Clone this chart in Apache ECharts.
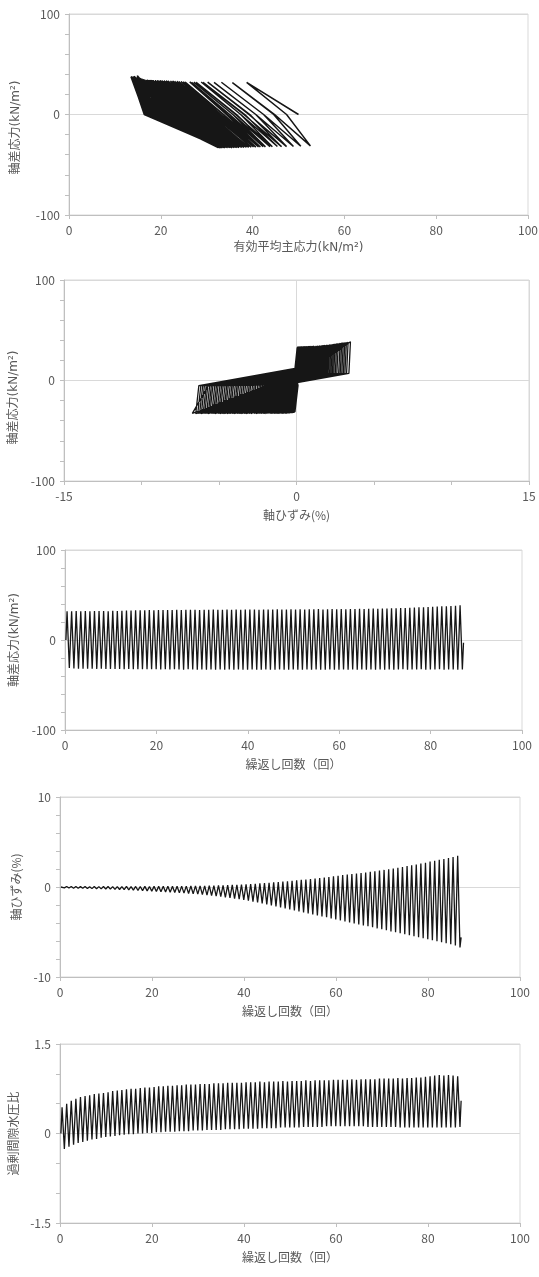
<!DOCTYPE html>
<html><head><meta charset="utf-8">
<script src="https://cdn.jsdelivr.net/npm/echarts@6/dist/echarts.min.js"></script>
<style>html,body{margin:0;padding:0;background:#fff}#c{width:539px;height:1277px}</style>
</head><body><div id="c"></div>
<script>
// ---- per-cycle peak values (cycle index 0..86) ----
const qMax = [
32.0,31.8,32.1,31.9,32.2,32.0,32.3,32.1,32.2,32.0,
32.4,32.3,32.6,32.8,32.7,33.0,32.9,33.1,33.2,33.0,
33.3,33.2,33.4,33.3,33.5,33.4,33.6,33.5,33.7,33.4,
33.6,33.5,33.8,33.6,33.7,33.9,33.6,33.8,33.7,33.9,
33.8,34.0,33.7,33.9,34.0,33.8,34.1,33.9,34.0,34.2,
33.9,34.1,34.0,34.2,34.1,34.3,34.0,34.2,34.4,34.1,
34.3,34.2,34.5,34.3,34.6,34.4,34.7,34.9,34.8,35.1,
35.0,35.3,35.2,35.6,35.5,35.9,36.0,36.3,36.5,36.7,
37.0,37.3,37.6,37.5,37.8,38.0,38.6];
const qMin = [
-31.2,-31.6,-31.8,-31.9,-32.0,-31.8,-32.1,-32.0,-32.2,-32.1,
-32.3,-32.2,-32.4,-32.3,-32.5,-32.4,-32.6,-32.5,-32.4,-32.6,
-32.7,-32.5,-32.8,-32.6,-32.7,-32.9,-32.6,-32.8,-33.0,-32.7,
-32.9,-32.8,-33.0,-32.7,-32.9,-32.8,-33.1,-32.8,-32.9,-33.0,
-32.8,-32.9,-33.0,-32.7,-32.9,-33.1,-32.8,-33.0,-32.9,-32.8,
-33.0,-32.9,-32.7,-33.0,-32.8,-32.9,-33.1,-32.8,-32.9,-33.0,
-32.8,-32.9,-32.7,-33.0,-32.8,-32.9,-32.7,-32.9,-32.8,-33.0,
-32.7,-32.9,-32.8,-32.6,-32.9,-32.7,-32.8,-32.6,-32.9,-32.7,
-32.8,-32.6,-32.9,-32.7,-32.8,-32.9,-32.7];
const strainMax = [
0.08,0.06,0.05,0.05,0.04,0.05,0.04,0.05,0.04,0.05,
0.05,0.04,0.05,0.05,0.06,0.05,0.06,0.06,0.07,0.06,
0.07,0.07,0.08,0.08,0.09,0.09,0.10,0.10,0.11,0.12,
0.12,0.13,0.15,0.16,0.18,0.19,0.21,0.23,0.25,0.27,
0.30,0.33,0.36,0.40,0.43,0.47,0.51,0.55,0.60,0.64,
0.69,0.74,0.79,0.84,0.89,0.95,1.00,1.06,1.12,1.19,
1.26,1.32,1.38,1.44,1.50,1.56,1.62,1.68,1.75,1.82,
1.90,1.98,2.06,2.14,2.23,2.32,2.41,2.50,2.60,2.70,
2.82,2.92,3.02,3.12,3.22,3.33,3.48];
const strainMin = [
-0.10,-0.12,-0.13,-0.15,-0.15,-0.17,-0.18,-0.19,-0.21,-0.22,
-0.24,-0.26,-0.28,-0.30,-0.32,-0.35,-0.37,-0.40,-0.43,-0.46,
-0.49,-0.52,-0.55,-0.58,-0.61,-0.65,-0.68,-0.72,-0.76,-0.80,
-0.85,-0.90,-0.96,-1.02,-1.08,-1.15,-1.21,-1.29,-1.36,-1.44,
-1.53,-1.62,-1.72,-1.83,-1.93,-2.05,-2.16,-2.27,-2.38,-2.50,
-2.60,-2.71,-2.83,-2.93,-3.04,-3.16,-3.26,-3.37,-3.49,-3.60,
-3.71,-3.82,-3.94,-4.04,-4.15,-4.27,-4.37,-4.48,-4.60,-4.70,
-4.81,-4.93,-5.03,-5.14,-5.26,-5.36,-5.47,-5.59,-5.69,-5.80,
-5.92,-6.02,-6.14,-6.25,-6.37,-6.50,-6.72];
const ppMax = [
0.44,0.50,0.55,0.58,0.61,0.63,0.64,0.66,0.67,0.68,
0.69,0.71,0.72,0.73,0.74,0.75,0.75,0.76,0.77,0.77,
0.78,0.79,0.79,0.80,0.80,0.81,0.81,0.82,0.82,0.82,
0.83,0.83,0.83,0.84,0.84,0.84,0.85,0.85,0.85,0.85,
0.86,0.86,0.86,0.87,0.86,0.87,0.87,0.87,0.88,0.87,
0.88,0.88,0.88,0.89,0.88,0.89,0.89,0.89,0.89,0.90,
0.90,0.90,0.90,0.91,0.90,0.91,0.91,0.91,0.91,0.92,
0.92,0.92,0.92,0.93,0.92,0.93,0.93,0.94,0.94,0.95,
0.96,0.97,0.98,0.97,0.98,0.97,0.96];
const ppMin = [
-0.26,-0.22,-0.19,-0.16,-0.14,-0.12,-0.10,-0.09,-0.07,-0.06,
-0.05,-0.04,-0.03,-0.02,-0.01,-0.01,0.00,0.00,0.01,0.01,
0.02,0.02,0.03,0.03,0.03,0.04,0.04,0.04,0.05,0.05,
0.05,0.06,0.06,0.06,0.06,0.07,0.07,0.07,0.07,0.08,
0.08,0.08,0.08,0.09,0.09,0.09,0.09,0.10,0.10,0.10,
0.10,0.10,0.11,0.11,0.11,0.11,0.11,0.12,0.12,0.12,
0.12,0.12,0.12,0.12,0.12,0.12,0.11,0.11,0.11,0.11,
0.11,0.11,0.11,0.10,0.10,0.10,0.10,0.10,0.10,0.10,
0.10,0.10,0.10,0.10,0.10,0.10,0.11];
// effective mean principal stress p' at compression peak / extension trough / q=0 crossings
const pTop = [
38.7,35.6,33.2,31.6,30.2,29.2,28.8,27.7,27.2,26.7,
26.3,25.3,24.9,24.4,23.9,23.5,23.5,23.0,22.6,22.5,
22.1,21.6,21.6,21.1,21.2,20.6,20.7,20.2,20.2,20.1,
19.7,19.7,19.8,19.2,19.2,19.3,18.7,18.8,18.7,18.8,
18.3,18.3,18.2,17.8,18.1,17.8,17.9,17.8,17.3,17.7,
17.3,17.4,17.3,16.9,17.2,16.9,16.8,16.9,17.0,16.4,
16.4,16.4,16.5,15.9,16.3,16.0,16.1,16.1,16.1,15.7,
15.7,15.8,15.7,15.4,15.8,15.5,15.5,15.1,15.2,14.7,
14.3,13.9,13.5,14.0,13.6,14.2,14.9];
const pBot = [
52.6,50.5,48.9,47.4,46.3,45.4,44.3,43.8,42.8,42.3,
41.7,41.3,40.7,40.2,39.7,39.7,39.1,39.2,38.7,38.6,
38.1,38.2,37.6,37.7,37.6,37.0,37.1,37.1,36.5,36.6,
36.5,36.1,36.0,36.1,36.0,35.6,35.5,35.6,35.6,35.0,
35.1,34.6,34.5,34.2,34.0,33.9,34.0,33.5,33.4,33.5,
33.4,33.3,33.0,32.9,33.0,33.0,32.9,32.6,32.5,32.6,
32.5,32.6,32.5,32.6,32.5,32.6,32.9,32.8,32.9,32.8,
32.9,32.8,32.9,33.2,33.1,33.2,33.2,33.1,33.2,33.1,
33.2,33.1,33.2,33.1,33.2,33.1,32.9];
const pDown = [
47.4,44.6,42.4,40.7,39.4,38.3,37.4,36.5,35.7,35.0,
34.3,33.6,33.0,32.4,31.8,31.3,30.8,30.3,29.8,29.4,
28.9,28.5,28.1,27.7,27.3,26.9,26.6,26.2,25.9,25.5,
25.2,24.9,24.6,24.3,24.0,23.7,23.4,23.1,22.8,22.6,
22.3,22.1,21.8,21.6,21.3,21.1,20.9,20.7,20.5,20.3,
20.1,19.9,19.7,19.5,19.4,19.2,19.0,18.9,18.7,18.6,
18.4,18.3,18.2,18.0,17.9,17.8,17.7,17.6,17.5,17.4,
17.3,17.2,17.1,17.0,17.0,16.9,16.8,16.8,16.7,16.7,
16.6,16.6,16.5,16.5,16.4,16.4,16.5];
const pUp = [
44.8,42.4,40.7,39.2,38.1,37.4,36.3,35.7,35.0,34.5,
33.7,33.1,32.6,32.1,31.6,31.2,30.8,30.4,30.0,29.6,
29.2,28.9,28.5,28.2,27.9,27.5,27.2,26.9,26.6,26.3,
26.0,25.8,25.6,25.3,25.1,24.9,24.7,24.5,24.3,24.1,
23.9,23.7,23.6,23.4,23.3,23.1,23.0,22.8,22.7,22.6,
22.5,22.4,22.3,22.2,22.1,22.0,21.9,21.8,21.8,21.7,
21.6,21.6,21.5,21.5,21.4,21.4,21.5,21.4,21.5,21.4,
21.5,21.6,21.5,21.6,21.7,21.6,21.7,21.6,21.7,21.8,
21.7,21.8,21.7,21.8,21.7,21.8];
// start / end states of the test  [cycle, q, strain, pore-pressure ratio, p']
const startState = [0.2, 0, 0, 0, 50.0];
const endState = [87.2, -3, -5.6, 0.55, 26.0];
// knee points of one stress-strain loop:
// [strain anchor, strain offset or fraction, q (kN/m2)]
const unloadKnees = [['max', -0.10, 7], ['zero', 0.05, -2], ['fmin', 0.28, -4.5]];
const loadKnees = [['min', 0.20, -5], ['zero', -0.10, 12], ['fmaxNext', 0.32, 13.5]];
const peakPhase = 0.45, troughPhase = 0.95;

// ---- build series ----
const N = qMax.length;
function timeSeries(hi, lo, s, e) {
  const d = [[startState[0], s]];
  for (let i = 0; i < N; i++) { d.push([i + peakPhase, hi[i]]); d.push([i + troughPhase, lo[i]]); }
  d.push([endState[0], e]);
  return d;
}
const tsQ = timeSeries(qMax, qMin, startState[1], endState[1]);
const tsE = timeSeries(strainMax, strainMin, startState[2], endState[2]);
const tsU = timeSeries(ppMax, ppMin, startState[3], endState[3]);

const path1 = [[startState[4], startState[1]]];
for (let i = 0; i < N; i++) {
  path1.push([pTop[i], qMax[i]]);
  path1.push([pDown[i], 0]);
  path1.push([pBot[i], qMin[i]]);
  if (i < N - 1) path1.push([pUp[i], 0]);
}
path1.push([endState[4], endState[1]]);

function kneePt(k, i) {
  let x = 0;
  if (k[0] === 'max') x = strainMax[i] + k[1];
  else if (k[0] === 'min') x = strainMin[i] + k[1];
  else if (k[0] === 'fmin') x = strainMin[i] * k[1];
  else if (k[0] === 'fmaxNext') x = strainMax[i + 1] * k[1];
  else x = k[1];
  return [x, k[2]];
}
const path2 = [[startState[2], startState[1]]];
for (let i = 0; i < N; i++) {
  path2.push([strainMax[i], qMax[i]]);
  unloadKnees.forEach(k => path2.push(kneePt(k, i)));
  path2.push([strainMin[i], qMin[i]]);
  if (i < N - 1) loadKnees.forEach(k => path2.push(kneePt(k, i)));
}
path2.push([endState[2], endState[1]]);

// ---- chart ----
const FONT = '"Noto Sans CJK JP","Noto Sans",sans-serif';
const FONT_UNIT = '"DejaVu Sans","Noto Sans CJK JP",sans-serif';
const TXT = '#595959', AX = '#bfbfbf', GR = '#d9d9d9';
const grids = [
  {left: 69, top: 14, width: 459, height: 201},
  {left: 64, top: 280, width: 465, height: 201},
  {left: 65, top: 550, width: 457, height: 180},
  {left: 60, top: 797, width: 460, height: 180},
  {left: 60, top: 1044, width: 460, height: 179}
].map(g => Object.assign(g, {show: true, borderColor: GR, borderWidth: 1, backgroundColor: '#fff', outerBoundsMode: 'none', containLabel: false}));

function axis(gi, min, max, interval, minorSplit, name, gap, split, pad, nameFont) {
  return {
    type: 'value', gridIndex: gi, min: min, max: max, interval: interval,
    axisLine: {show: true, onZero: false, lineStyle: {color: AX, width: 1}},
    axisTick: {show: true, inside: false, length: 4, lineStyle: {color: AX}},
    minorTick: {show: minorSplit > 1, splitNumber: minorSplit, length: 4, lineStyle: {color: AX}},
    splitLine: {show: split, lineStyle: {color: GR, width: 1}},
    minorSplitLine: {show: false},
    axisLabel: {color: TXT, fontSize: 12, fontFamily: FONT, margin: 9, showMinLabel: true, showMaxLabel: true},
    name: name, nameLocation: 'middle', nameGap: gap,
    nameTextStyle: {color: TXT, fontSize: 12, fontFamily: nameFont || FONT, padding: pad || 0}
  };
}
const KN = '(kN/m²)';
const xAxes = [
  axis(0, 0, 100, 20, 1, '有効平均主応力' + KN, 27, false, 0, FONT_UNIT),
  axis(1, -15, 15, 15, 3, '軸ひずみ(%)', 28, true),
  axis(2, 0, 100, 20, 1, '繰返し回数（回）', 28, false),
  axis(3, 0, 100, 20, 1, '繰返し回数（回）', 28, false),
  axis(4, 0, 100, 20, 1, '繰返し回数（回）', 28, false)
];
const yAxes = [
  axis(0, -100, 100, 100, 5, '軸差応力' + KN, 47, true, [0, 26, 0, 0], FONT_UNIT),
  axis(1, -100, 100, 100, 5, '軸差応力' + KN, 43, true, [0, 34, 0, 0], FONT_UNIT),
  axis(2, -100, 100, 100, 5, '軸差応力' + KN, 42, true, 0, FONT_UNIT),
  axis(3, -10, 10, 10, 5, '軸ひずみ(%)', 36, true),
  axis(4, -1.5, 1.5, 1.5, 3, '過剰間隙水圧比', 37, true)
];
function line(k, data, w) {
  return {type: 'line', xAxisIndex: k, yAxisIndex: k, data: data, showSymbol: false, symbol: 'none',
    silent: true, clip: true, lineStyle: {color: '#161616', width: w}};
}
const chart = echarts.init(document.getElementById('c'), null, {renderer: 'canvas'});
chart.setOption({
  animation: false,
  backgroundColor: '#fff',
  textStyle: {fontFamily: FONT},
  grid: grids, xAxis: xAxes, yAxis: yAxes,
  series: [line(0, path1, 1.5), line(1, path2, 1.3), line(2, tsQ, 1.3), line(3, tsE, 1.3), line(4, tsU, 1.3)]
});
</script></body></html>
